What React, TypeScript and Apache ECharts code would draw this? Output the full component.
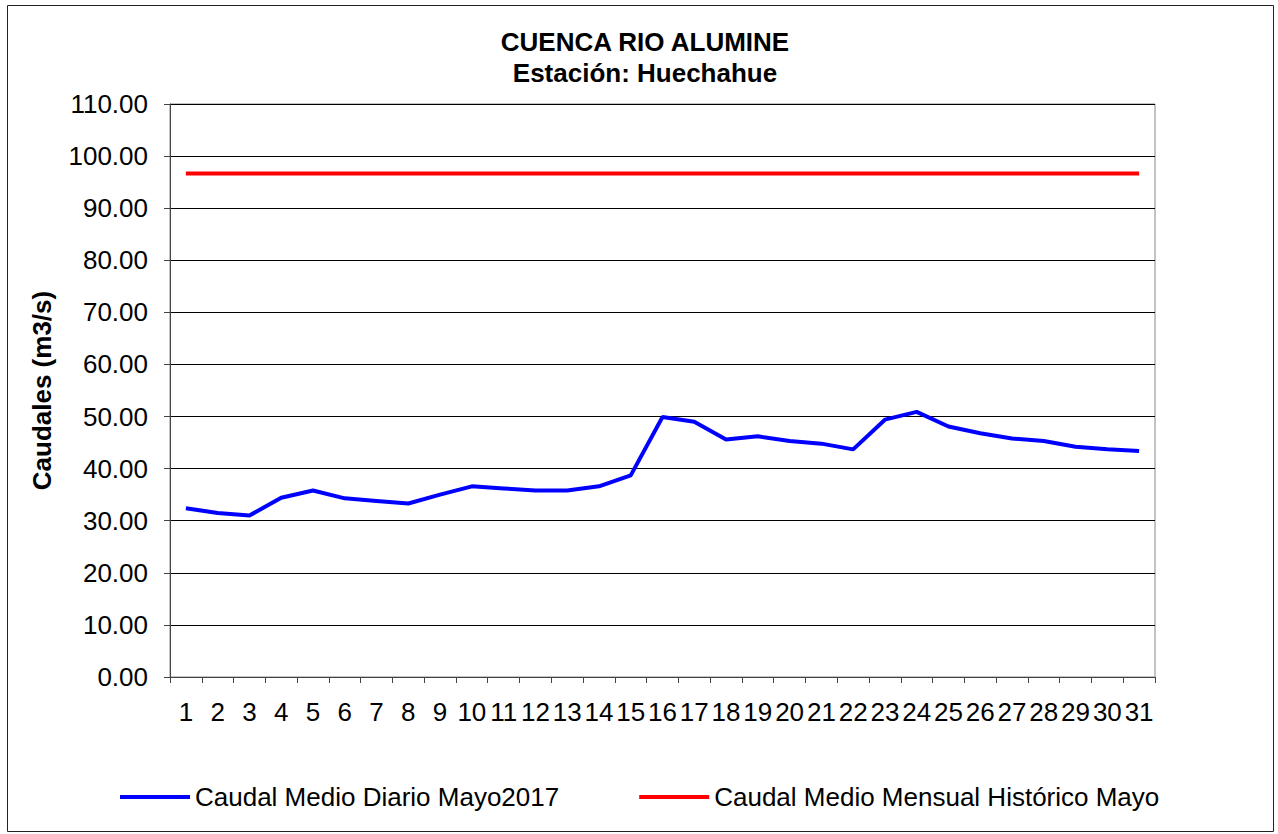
import React, { useEffect, useRef } from "react";
import * as echarts from "echarts";

const days = Array.from({ length: 31 }, (_, i) => String(i + 1));
const caudalDiario = [
  32.4, 31.5, 31.0, 34.4, 35.8, 34.3, 33.8, 33.3, 35.0, 36.6, 36.2, 35.8, 35.8, 36.6, 38.7,
  49.9, 49.0, 45.6, 46.2, 45.3, 44.8, 43.7, 49.4, 50.9, 48.1, 46.8, 45.8, 45.3, 44.2, 43.7, 43.4,
];
const historicoValue = 96.65;
const caudalHistorico = days.map(() => historicoValue);

export default function App() {
  const ref = useRef<HTMLDivElement>(null);
  useEffect(() => {
    document.body.style.margin = "0";
    const chart = echarts.init(ref.current!, null, { renderer: "svg" });
    const font = "Liberation Sans, Arial, sans-serif";
    chart.setOption({
      animation: false,
      backgroundColor: "#fff",
      textStyle: { fontFamily: font },
      graphic: [
        {
          type: "rect",
          shape: { x: 7.5, y: 5.5, width: 1266, height: 826 },
          style: { fill: "none", stroke: "#222", lineWidth: 1 },
          silent: true,
        },
        {
          type: "text",
          x: 645,
          y: 42,
          style: {
            text: "CUENCA RIO ALUMINE",
            font: "bold 26px Liberation Sans, Arial, sans-serif",
            fill: "#000",
            align: "center",
            verticalAlign: "middle",
          },
        },
        {
          type: "text",
          x: 645,
          y: 73,
          style: {
            text: "Estación: Huechahue",
            font: "bold 26px Liberation Sans, Arial, sans-serif",
            fill: "#000",
            align: "center",
            verticalAlign: "middle",
          },
        },
      ],
      grid: {
        left: 170,
        top: 104,
        width: 985,
        height: 573,
        show: true,
        borderColor: "#888",
        borderWidth: 1,
        containLabel: false,
      },
      legend: {
        top: 779,
        left: 115,
        itemGap: 80,
        itemWidth: 70,
        itemHeight: 4,
        icon: "rect",
        textStyle: { fontSize: 26, color: "#000", fontFamily: font },
        data: ["Caudal Medio Diario Mayo2017", "Caudal Medio Mensual Histórico Mayo"],
      },
      xAxis: {
        type: "category",
        data: days,
        boundaryGap: true,
        axisLine: { lineStyle: { color: "#444", width: 1 } },
        axisTick: { show: true, length: 6, lineStyle: { color: "#444" } },
        axisLabel: { fontSize: 26, color: "#000", margin: 22, interval: 0, fontFamily: font },
      },
      yAxis: {
        type: "value",
        min: 0,
        max: 110,
        interval: 10,
        name: "Caudales (m3/s)",
        nameLocation: "middle",
        nameGap: 115,
        nameTextStyle: { fontSize: 26, fontWeight: "bold", color: "#000", fontFamily: font },
        axisLine: { show: true, lineStyle: { color: "#444" } },
        axisTick: { show: true, length: 6, lineStyle: { color: "#444" } },
        axisLabel: {
          fontSize: 26,
          color: "#000",
          margin: 22,
          fontFamily: font,
          formatter: (v: number) => v.toFixed(2),
        },
        splitLine: { show: true, lineStyle: { color: "#000", width: 1 } },
      },
      series: [
        {
          name: "Caudal Medio Diario Mayo2017",
          type: "line",
          data: caudalDiario,
          symbol: "none",
          lineStyle: { color: "#0000ff", width: 4 },
          itemStyle: { color: "#0000ff" },
        },
        {
          name: "Caudal Medio Mensual Histórico Mayo",
          type: "line",
          data: caudalHistorico,
          symbol: "none",
          lineStyle: { color: "#ff0000", width: 4 },
          itemStyle: { color: "#ff0000" },
        },
      ],
    });
    return () => chart.dispose();
  }, []);
  return <div ref={ref} style={{ width: 1278, height: 834 }} />;
}
